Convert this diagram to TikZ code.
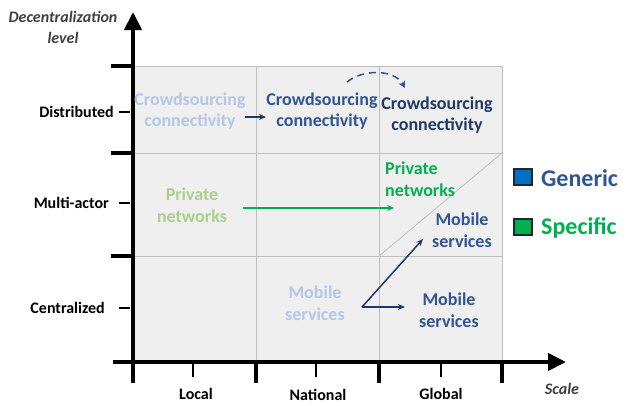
\documentclass[tikz,border=0pt]{standalone}
\usepackage{fontspec}
\setmainfont{Carlito}
\usetikzlibrary{arrows.meta}
\definecolor{gridbg}{HTML}{EFEFEF}
\definecolor{gridln}{HTML}{BFBFBF}
\definecolor{lblue}{HTML}{B4C7E7}
\definecolor{mblue}{HTML}{2F5597}
\definecolor{dblue}{HTML}{203864}
\definecolor{lgreen}{HTML}{A9D18E}
\definecolor{mgreen}{HTML}{00B050}
\definecolor{legblue}{HTML}{0070C0}
\definecolor{axtxt}{HTML}{404040}
\begin{document}
\begin{tikzpicture}[x=1pt,y=-1pt,
  gridline/.style={draw=gridln, line width=0.8pt},
  axis/.style={line width=4pt, -{Triangle[width=17pt,length=18pt]}},
  majortick/.style={line width=4pt},
  minortick/.style={line width=2pt},
  celltext/.style={align=center, font=\fontsize{18}{21.5}\selectfont\bfseries, inner sep=0pt},
  axlabel/.style={font=\fontsize{16}{19}\selectfont\bfseries, inner sep=0pt},
  axtitle/.style={font=\fontsize{16}{21}\selectfont\bfseries\itshape, text=axtxt, align=center, inner sep=0pt},
  legtext/.style={font=\fontsize{24}{28}\selectfont\bfseries, inner sep=0pt, anchor=west},
  legbox/.style={draw=black!85, line width=1.2pt, minimum width=18pt, minimum height=16pt, inner sep=0pt},
  smallarrow/.style={line width=1.5pt, -{Stealth[length=7pt,width=6pt]}}
]
\useasboundingbox (0,0) rectangle (627,405);
% grid
\fill[gridbg] (133,66) rectangle (502,362);
\draw[gridline] (133,66) -- (502,66) -- (502,362);
\draw[gridline] (133,153) -- (502,153);
\draw[gridline] (133,256) -- (502,256);
\draw[gridline] (256,66) -- (256,362);
\draw[gridline] (379,66) -- (379,362);
\draw[gridline] (379,256) -- (502,153);
% axes
\coordinate (ybot) at (133,383);
\coordinate (ytop) at (133,12);
\coordinate (xl) at (113,362);
\coordinate (xr) at (566,362);
\draw[axis] (ybot) -- (ytop);
\draw[axis] (xl) -- (xr);
% y ticks
\foreach \y in {66,153,256} \draw[majortick] (111,\y) -- (133,\y);
\foreach \y in {112,203,308} \draw[minortick] (119,\y) -- (130,\y);
% x ticks
\foreach \x in {256,379,502} \draw[majortick] (\x,362) -- (\x,383);
\foreach \x in {193,316,441} \draw[minortick] (\x,362) -- (\x,377);
% axis labels
\node[axtitle] (ytitle) at (63,27) {Decentralization\\level};
\node[axtitle, font=\fontsize{16}{19}\selectfont\bfseries\itshape] (xtitle) at (562,389) {Scale};
\node[axlabel, anchor=east] (ldist) at (114,112) {Distributed};
\node[axlabel, anchor=east] (lmulti) at (109,203) {Multi-actor};
\node[axlabel, anchor=east] (lcent) at (105,308) {Centralized};
\node[axlabel] (llocal) at (196,394) {Local};
\node[axlabel] (lnat) at (318,395) {National};
\node[axlabel] (lglob) at (441,394) {Global};
% cell texts
\node[celltext, text=lblue] (c1) at (190,111) {Crowdsourcing\\connectivity};
\node[celltext, text=mblue] (c2) at (322,111) {Crowdsourcing\\connectivity};
\node[celltext, text=dblue] (c3) at (437,115) {Crowdsourcing\\connectivity};
\node[celltext, text=lgreen] (p1) at (192,205) {Private\\networks};
\node[celltext, text=mgreen, align=left, anchor=west] (p2) at (385,179) {Private\\networks};
\node[celltext, text=mblue] (m2) at (462,230) {Mobile\\services};
\node[celltext, text=lblue] (m1) at (315,303) {Mobile\\services};
\node[celltext, text=mblue] (m3) at (449,310) {Mobile\\services};
% arrows
\coordinate (a1s) at (245,117);
\coordinate (a1e) at (266,117);
\draw[smallarrow, draw=dblue] (a1s) -- (a1e);
\coordinate (d1s) at (347,82);
\coordinate (d1e) at (405,88);
\draw[mblue, line width=1.5pt, dash pattern=on 7pt off 5pt, -{Stealth[length=7pt,width=7pt]}] (d1s) .. controls (365,68) and (395,70) .. (d1e);
\coordinate (g1s) at (243,208);
\coordinate (g1e) at (394,208);
\draw[smallarrow, draw=mgreen] (g1s) -- (g1e);
\coordinate (j) at (362,307);
\coordinate (up) at (423,239);
\coordinate (rt) at (405,307);
\draw[smallarrow, draw=dblue] (j) -- (up);
\draw[smallarrow, draw=dblue] (j) -- (rt);
% legend
\node[legbox, fill=legblue] (lb1) at (523,177) {};
\node[legbox, fill=mgreen] (lb2) at (523,227) {};
\node[legtext, text=mblue] (lt1) at (541,178) {Generic};
\node[legtext, text=mgreen] (lt2) at (541,228) {Specific};
\end{tikzpicture}
\end{document}
